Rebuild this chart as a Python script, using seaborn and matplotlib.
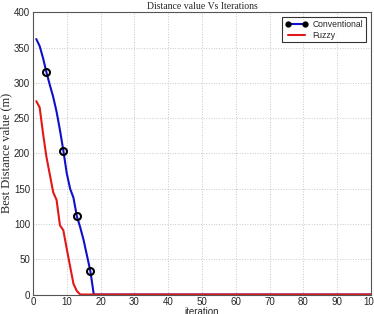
import matplotlib
matplotlib.use("Agg")
import matplotlib.pyplot as plt
import seaborn as sns
import pandas as pd

# values (iterations 1..100)
iterations = list(range(1, 101))
conventional = [362, 352, 335, 315, 297, 280, 259, 233, 204, 172,
                150, 137, 111, 95, 77, 55, 33, 0] + [0] * 82
fuzzy = [274, 265, 228, 195, 170, 145, 134, 98, 91, 65,
         40, 15, 5, 0] + [0] * 86

df = pd.DataFrame({"iteration": iterations,
                   "Conventional": conventional,
                   "Fuzzy": fuzzy})

sns.set_style("whitegrid")
plt.rcParams["font.family"] = ["Liberation Sans", "DejaVu Sans"]

fig = plt.figure(figsize=(3.74, 3.14), dpi=100)
ax = fig.add_axes([0.088, 0.062, 0.904, 0.899])

sns.lineplot(data=df, x="iteration", y="Conventional", ax=ax,
             color="#1010c8", lw=1.5, marker="o", markersize=5,
             markerfacecolor="none", markeredgecolor="black",
             markeredgewidth=1.5, markevery=[3, 8, 12, 16],
             label="Conventional")
sns.lineplot(data=df, x="iteration", y="Fuzzy", ax=ax,
             color="#e01818", lw=1.5, label="Fuzzy")

ax.set_xlim(0, 100)
ax.set_ylim(0, 400)
ax.set_xticks(range(0, 101, 10))
ax.set_yticks(range(0, 401, 50))
ax.tick_params(labelsize=7, length=2, pad=2, direction="in")
ax.grid(True, linestyle=":", color="#c8c8c8", lw=0.7)
for s in ax.spines.values():
    s.set_color("#555555")
    s.set_linewidth(0.8)

ax.set_xlabel("iteration", fontsize=7, labelpad=0)
ax.set_ylabel("Best Distance value (m)", fontsize=9,
              family=["Liberation Serif"], labelpad=0)
ax.yaxis.set_label_coords(-0.06, 0.5)
ax.set_title("Distance value Vs Iterations", fontsize=7,
             family=["Liberation Serif"], pad=2)

leg = ax.legend(loc="upper right", fontsize=6.2, frameon=True,
                fancybox=False, borderpad=0.3, handlelength=2.6,
                labelspacing=0.2, handletextpad=0.6,
                borderaxespad=0.6, numpoints=2)
leg.get_frame().set_edgecolor("black")
leg.get_frame().set_linewidth(0.8)
for h in leg.get_lines()[:1]:
    h.set_markerfacecolor("black")
    h.set_markersize(3)
    h.set_markevery(None)

fig.savefig("out.png", dpi=100)
